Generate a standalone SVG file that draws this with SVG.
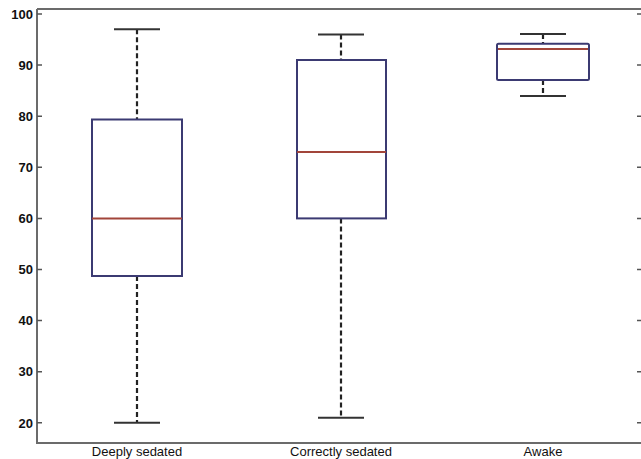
<svg xmlns="http://www.w3.org/2000/svg" width="641" height="459" viewBox="0 0 641 459">
<style>
.axis{stroke:#6b6b6b;stroke-width:2;fill:none}
.tick{stroke:#555;stroke-width:1.5}
.box{fill:#fff;stroke:#3b3a72;stroke-width:2}
.med{stroke:#a2453a;stroke-width:2}
.wh{stroke:#222;stroke-width:2.2;stroke-dasharray:5,3}
.cap{stroke:#333;stroke-width:2}
.yl{font-family:"Liberation Sans",Arial,sans-serif;font-size:13px;font-weight:bold;fill:#111;text-anchor:end}
.xl{font-family:"Liberation Sans",Arial,sans-serif;font-size:13px;fill:#111;text-anchor:middle}
</style>
<rect width="641" height="459" fill="#fff"/>
<g id="axes">
<path class="axis" d="M37,9 H641 M37,9 V443 H641"/>
<g id="yticks">
<path class="tick" d="M37,14h5 M37,65.1h5 M37,116.2h5 M37,167.3h5 M37,218.4h5 M37,269.5h5 M37,320.6h5 M37,371.7h5 M37,422.8h5"/>
<path class="tick" d="M641,14h-4 M641,65.1h-4 M641,116.2h-4 M641,167.3h-4 M641,218.4h-4 M641,269.5h-4 M641,320.6h-4 M641,371.7h-4 M641,422.8h-4"/>
</g>
<g id="ylabels">
<text class="yl" x="33" y="18.7">100</text>
<text class="yl" x="33" y="69.8">90</text>
<text class="yl" x="33" y="120.9">80</text>
<text class="yl" x="33" y="172">70</text>
<text class="yl" x="33" y="223.1">60</text>
<text class="yl" x="33" y="274.2">50</text>
<text class="yl" x="33" y="325.3">40</text>
<text class="yl" x="33" y="376.4">30</text>
<text class="yl" x="33" y="427.5">20</text>
</g>
<g id="xlabels">
<text class="xl" x="137" y="456">Deeply sedated</text>
<text class="xl" x="341" y="456">Correctly sedated</text>
<text class="xl" x="543" y="456">Awake</text>
</g>
</g>
<g id="connectors">
<line class="wh" x1="137" y1="29.3" x2="137" y2="119.5"/>
<line class="wh" x1="137" y1="276" x2="137" y2="422.8"/>
<line class="wh" x1="341" y1="34.4" x2="341" y2="60"/>
<line class="wh" x1="341" y1="218.4" x2="341" y2="417.7"/>
<line class="wh" x1="543" y1="34" x2="543" y2="43.7"/>
<line class="wh" x1="543" y1="80" x2="543" y2="96"/>
</g>
<g id="deeply-sedated">
<line class="cap" x1="114" y1="29.3" x2="160" y2="29.3"/>
<line class="cap" x1="114" y1="422.8" x2="160" y2="422.8"/>
<rect class="box" x="92" y="119.5" width="90" height="156.5"/>
<line class="med" x1="92" y1="218.4" x2="182" y2="218.4"/>
</g>
<g id="correctly-sedated">
<line class="cap" x1="318" y1="34.4" x2="364" y2="34.4"/>
<line class="cap" x1="318" y1="417.7" x2="364" y2="417.7"/>
<rect class="box" x="297" y="60" width="89" height="158.4"/>
<line class="med" x1="297" y1="151.9" x2="386" y2="151.9"/>
</g>
<g id="awake">
<line class="cap" x1="520" y1="34" x2="566" y2="34"/>
<line class="cap" x1="520" y1="96" x2="566" y2="96"/>
<rect class="box" x="497" y="43.7" width="92" height="36.3" rx="1.5"/>
<line class="med" x1="498" y1="49" x2="588" y2="49"/>
</g>
</svg>
